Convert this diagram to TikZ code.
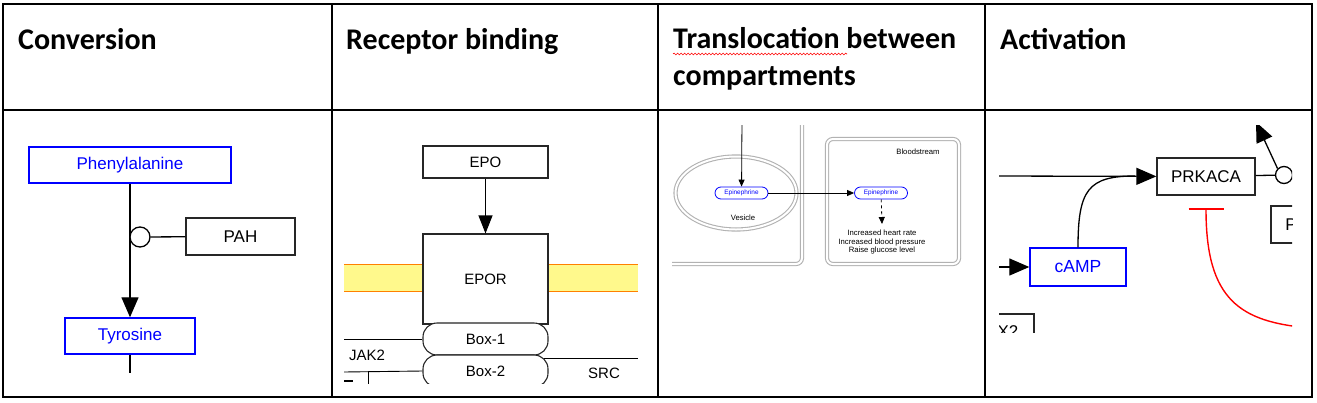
\documentclass[tikz,border=0pt]{standalone}
\usepackage{fontspec}
\setmainfont{Liberation Sans}
\newfontfamily\headfont{Carlito}
\usetikzlibrary{arrows.meta,shapes.geometric,decorations.pathmorphing}
\tikzset{
  grid/.style={line width=2pt,black},
  head/.style={anchor=base west,inner sep=0,font=\headfont\bfseries\fontsize{30}{37}\selectfont,align=left},
  mol/.style={draw=blue,line width=1.4pt,text=blue,fill=white,inner sep=0,font=\fontsize{17}{20}\selectfont},
  prot/.style={draw=black!85,line width=1.3pt,fill=white,inner sep=0,font=\fontsize{17}{20}\selectfont},
  rbox/.style={draw=black!85,line width=1.1pt,fill=white,inner sep=0,font=\fontsize{15}{18}\selectfont},
  lbl/.style={inner sep=0,font=\fontsize{15}{18}\selectfont},
  conv/.style={line width=1.3pt,-{Triangle[length=20pt,width=17pt]}},
  comp/.style={draw=black!30,double=white,double distance=2pt,line width=1.1pt},
  epi/.style={draw=blue,line width=0.8pt,text=blue,fill=white,rounded corners=6pt,inner sep=0,
    minimum width=53pt,minimum height=12pt,font=\fontsize{6.4}{7}\selectfont},
  small/.style={inner sep=0,font=\fontsize{7.7}{8.5}\selectfont,align=center},
  thin/.style={line width=0.8pt,-{Triangle[length=7pt,width=6pt]}},
  inhib/.style={draw=red,line width=1.4pt,-{Bar[width=35pt,line width=2.5pt]}},
}
\begin{document}
\begin{tikzpicture}[x=1pt,y=-1pt]
\useasboundingbox (0,0) rectangle (1317,402);
% table
\draw[grid] (3,4) rectangle (1312,397);
\draw[grid] (3,110) -- (1312,110);
\foreach \x in {332,657.5,985}
  \draw[grid] (\x,4) -- (\x,397);
\node[head] (h1) at (18,49) {Conversion};
\node[head] (h2) at (346,49) {Receptor binding};
\node[head,anchor=north west] (h3) at (673,27) {Translocation between\\compartments};
\node[head] (h4) at (1000,49) {Activation};
\draw[red,line width=0.6pt,decorate,decoration={snake,segment length=3.5pt,amplitude=0.9pt}] (673,54) -- (847,54);

% conversion
\node[mol,minimum width=202,minimum height=36] (phe) at (130,165) {Phenylalanine};
\node[prot,minimum width=109,minimum height=37] (pah) at (240.5,236.5) {PAH};
\node[mol,minimum width=130,minimum height=36] (tyr) at (130,336) {Tyrosine};
\coordinate (tyrend) at (130,373);
\draw[conv] (phe) -- (tyr);
\draw[line width=1.3pt] (tyr) -- (tyrend);
\node[circle,draw,line width=1.3pt,fill=white,minimum size=20,inner sep=0] (cat) at (140,237) {};
\draw[line width=1.3pt] (cat) -- (pah);

% receptor binding
\begin{scope}
\clip (344,120) rectangle (638,383);
\fill[yellow!45] (344,264) rectangle (638,291);
\draw[orange,line width=1pt] (344,264) -- (638,264) (344,291) -- (638,291);
\node[rbox,minimum width=125,minimum height=32] (epo) at (485.5,162) {EPO};
\node[rbox,minimum width=125,minimum height=90] (epor) at (485.5,279) {EPOR};
\node[rbox,rounded corners=14pt,minimum width=125,minimum height=32] (box1) at (485.5,339) {Box-1};
\node[rbox,rounded corners=14pt,minimum width=125,minimum height=32] (box2) at (485.5,371) {Box-2};
\draw[line width=1.1pt,-{Triangle[length=18pt,width=14pt]}] (epo) -- (epor);
\coordinate (jakend) at (344,339);
\coordinate (jakend2) at (344,372);
\coordinate (srcend) at (638,358);
\draw[line width=0.9pt] (jakend) -- (box1.west);
\draw[line width=0.9pt] (jakend2) -- (box2.west);
\draw[line width=0.9pt] ([xshift=-5]box2.north east |- srcend) -- (srcend);
\draw[line width=0.9pt] (368,372) -- (368,385);
\draw[line width=2pt] (344,381) -- (353,381);
\node[lbl] (jak) at (367,355) {JAK2};
\node[lbl] (src) at (604,373) {SRC};
\end{scope}

% translocation
\begin{scope}
\clip (672,125) rectangle (980,280);
\draw[comp,rounded corners=6pt] (600,60) rectangle (802,264);
\node[comp,ellipse,minimum width=121,minimum height=73] (ves) at (736,193) {};
\node[comp,rounded corners=6pt,minimum width=132,minimum height=125] (blood) at (893,201.5) {};
\node[epi] (epi1) at (741.5,193) {Epinephrine};
\node[epi] (epi2) at (881,193) {Epinephrine};
\node[small] (vl) at (743,218) {Vesicle};
\node[small] (bl) at (918,152) {Bloodstream};
\node[small] (eff) at (882,242.5) {Increased heart rate\\Increased blood pressure\\Raise glucose level};
\coordinate (vtop) at (742,118);
\coordinate (effend) at (882,224);
\draw[thin] (vtop) -- (epi1);
\draw[thin] (epi1) -- (epi2);
\draw[thin,dashed] (epi2) -- (effend);
\end{scope}

% activation
\begin{scope}
\clip (999,125) rectangle (1292,332);
\node[prot,minimum width=98,minimum height=37] (prk) at (1206,176.5) {PRKACA};
\node[mol,minimum width=96,minimum height=38,font=\fontsize{17.5}{20}\selectfont] (camp) at (1078,267) {cAMP};
\node[prot,minimum width=42,minimum height=37] (pbox) at (1292,224.5) {};
\node[inner sep=0,font=\fontsize{17}{20}\selectfont] (pl) at (1291,224.5) {P};
\node[prot,minimum width=80,minimum height=37] (xbox) at (994,332.5) {};
\node[inner sep=0,font=\fontsize{17}{20}\selectfont] (xl) at (1008,331.5) {X2};
\coordinate (inl) at (990,176);
\coordinate (inc) at (990,267);
\coordinate (join) at (1135,176);
\coordinate (outtip) at (1256,122);
\coordinate (redend) at (1310,328);
\draw[conv] (inl) -- (prk);
\draw[conv] (inc) -- (camp);
\draw[line width=1.3pt] (camp.north) .. controls (1078,190) and (1088,176) .. (join);
\node[circle,draw,line width=1.3pt,fill=white,minimum size=17,inner sep=0] (cat2) at (1284,175) {};
\draw[line width=1.3pt] (prk) -- (cat2);
\draw[conv] (cat2.north west) -- (outtip);
\draw[inhib,shorten >=12pt] (redend) .. controls (1240,322) and (1206,300) .. (prk.south);
\end{scope}
\end{tikzpicture}
\end{document}
